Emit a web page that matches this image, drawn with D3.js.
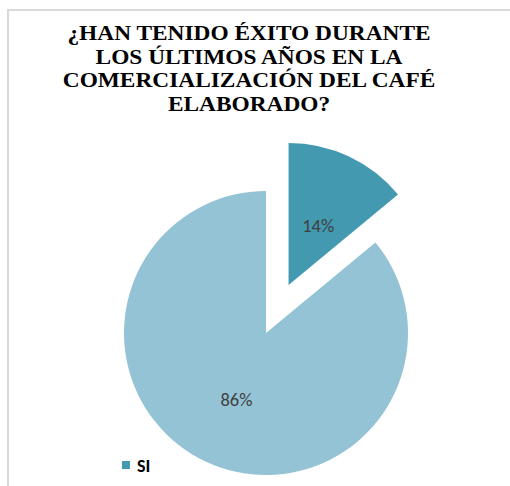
<!DOCTYPE html>
<html>
<head>
<meta charset="utf-8">
<style>
  body { margin: 0; background: #fff; }
  svg { display: block; }
</style>
<script src="https://d3js.org/d3.v7.min.js"></script>
</head>
<body>
<svg id="chart" width="510" height="486"></svg>
<script>
// chart data
var categories = ["SI", "NO"];
var values = [14, 86];
var colors = ["#4299b0", "#93c3d4"];
var titleLines = ["¿HAN TENIDO ÉXITO DURANTE", "LOS ÚLTIMOS AÑOS EN LA", "COMERCIALIZACIÓN DEL CAFÉ", "ELABORADO?"];

var svg = d3.select("#chart");

// frame of the chart area
svg.append("rect")
  .attr("x", 8).attr("y", 10)
  .attr("width", 520).attr("height", 500)
  .attr("fill", "none")
  .attr("stroke", "#d9d9d9")
  .attr("stroke-width", 2);

// title (the source picture is a bit stretched sideways)
svg.append("g")
  .attr("transform", "translate(249,0) scale(1.14,1)")
  .selectAll("text")
  .data(titleLines)
  .enter().append("text")
  .attr("x", 0)
  .attr("y", (d, i) => 40 + i * 23.7)
  .attr("text-anchor", "middle")
  .attr("font-family", "Liberation Serif")
  .attr("font-weight", "bold")
  .attr("font-size", 20.5)
  .attr("fill", "#000")
  .text(d => d);

var cx = 266, cy = 333, radius = 142, explode = 53;

var pie = d3.pie().sort(null).value(d => d);
var arc = d3.arc().innerRadius(0).outerRadius(radius);
var labelArc = d3.arc().innerRadius(radius * 0.49).outerRadius(radius * 0.49);

var slices = pie(values);
var total = d3.sum(values);

var g = svg.append("g").attr("transform", "translate(" + cx + "," + cy + ")");

function offset(d, i) {
  if (i !== 0) return [0, 0];
  var a = (d.startAngle + d.endAngle) / 2;
  return [Math.sin(a) * explode, -Math.cos(a) * explode];
}

var sliceG = g.selectAll("g.slice")
  .data(slices)
  .enter().append("g")
  .attr("class", "slice")
  .attr("transform", (d, i) => "translate(" + offset(d, i) + ")");

sliceG.append("path")
  .attr("d", arc)
  .attr("fill", (d, i) => colors[i]);

sliceG.append("text")
  .attr("transform", d => "translate(" + labelArc.centroid(d) + ")")
  .attr("text-anchor", "middle")
  .attr("dy", "0.55em")
  .attr("font-family", "Carlito")
  .attr("font-size", 18.5)
  .attr("fill", "#404040")
  .text(d => Math.round(d.data / total * 100) + "%");

// legend (only the first entry is visible)
var legend = svg.append("g").attr("transform", "translate(122,461)");
legend.append("rect")
  .attr("width", 8).attr("height", 8)
  .attr("fill", colors[0]);
legend.append("text")
  .attr("x", 15).attr("y", 11)
  .attr("font-family", "Carlito")
  .attr("font-weight", "bold")
  .attr("font-size", 18)
  .attr("fill", "#000")
  .text(categories[0]);
</script>
</body>
</html>
